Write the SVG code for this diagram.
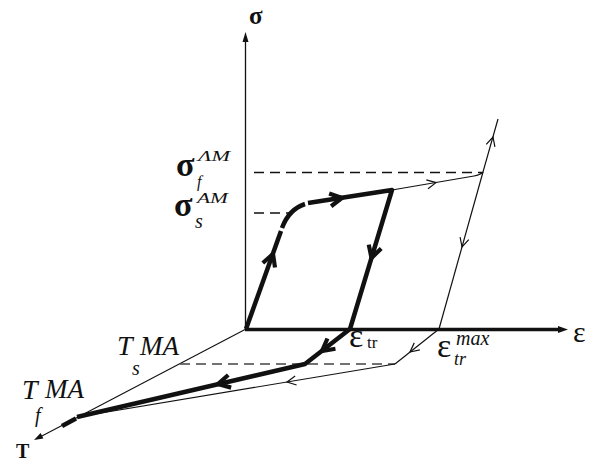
<svg xmlns="http://www.w3.org/2000/svg" xmlns:xlink="http://www.w3.org/1999/xlink" width="596" height="473" viewBox="0 0 596 473">
<style>
.thin{fill:none;stroke:#111;stroke-width:1.2}
.thick{fill:none;stroke:#111;stroke-width:4.5;stroke-linecap:butt;stroke-linejoin:round}
.dash{fill:none;stroke:#111;stroke-width:1.6;stroke-dasharray:10 6}
.dashg{fill:none;stroke:#444;stroke-width:1.5;stroke-dasharray:10 6}
.gr{font-family:"Liberation Serif","DejaVu Serif",serif;fill:#111}
.it{font-family:"Liberation Serif","DejaVu Serif",serif;font-style:italic;fill:#111}
</style>
<defs>
<path id="ta" d="M-12,-6.5 L0,0 L-12,6.5" fill="none" stroke="#111" stroke-width="4.2"/>
<path id="tn" d="M-9,-4.5 L0,0 L-9,4.5" fill="none" stroke="#111" stroke-width="1.2"/>
</defs>
<g id="axes">
<line x1="245.5" y1="329" x2="245.5" y2="40" stroke="#111" stroke-width="1.3"/>
<polygon points="245.5,32 242.5,42 248.5,42" fill="#111"/>
<line x1="245" y1="329.5" x2="560" y2="329.5" stroke="#111" stroke-width="3.5"/>
<polygon points="568,329.5 558,326 558,333" fill="#111"/>
<line x1="246" y1="329" x2="40" y2="437" stroke="#111" stroke-width="1.1"/>
<polygon points="34,440 43.4,438.5 40.6,433.1" fill="#111"/>
<text class="gr" x="249" y="24" font-size="25" font-weight="bold">σ</text>
<text class="gr" x="573" y="342" font-size="30">ε</text>
<text class="gr" x="16" y="458" font-size="20" font-weight="bold">T</text>
</g>
<g id="connectors">
<line class="dash" x1="254" y1="172.5" x2="482" y2="172.5"/>
<line class="dash" x1="254" y1="213" x2="290" y2="213"/>
<line class="dashg" x1="180" y1="364" x2="395" y2="364"/>
<path class="thin" d="M392,190 L474,176 Q480,175 483,172 L498,119"/>
<line class="thin" x1="483" y1="172" x2="439" y2="329"/>
<line class="thin" x1="439" y1="329" x2="395" y2="364"/>
<line class="thin" x1="395" y1="364" x2="77" y2="417"/>
<use xlink:href="#tn" transform="translate(436,182.6) rotate(-11.3)"/>
<use xlink:href="#tn" transform="translate(493,137) rotate(-74.3)"/>
<use xlink:href="#tn" transform="translate(462,247) rotate(105.7)"/>
<use xlink:href="#tn" transform="translate(410,352) rotate(141.5)"/>
<use xlink:href="#tn" transform="translate(287,382) rotate(170.5)"/>
<path class="thick" d="M246,329 L281,231"/>
<path class="thick" d="M282,228 C286,217 293,208 305,204"/>
<path class="thick" d="M308,203 L392,190 L350,329 L305,364 L77,417"/>
<path class="thick" d="M76,418.5 L62,426" stroke-width="4"/>
<use xlink:href="#ta" transform="translate(273,254) rotate(-70)"/>
<use xlink:href="#ta" transform="translate(342,198) rotate(-8.8)"/>
<use xlink:href="#ta" transform="translate(371.5,258) rotate(106.8)"/>
<use xlink:href="#ta" transform="translate(322,351) rotate(142)"/>
<use xlink:href="#ta" transform="translate(218,384) rotate(167)"/>
</g>
<g id="sigma-f">
<text class="gr" x="176" y="176" font-size="34" font-weight="bold">σ</text>
<text class="it" x="198" y="161" font-size="15" textLength="32" lengthAdjust="spacingAndGlyphs">ΛM</text>
<text class="it" x="197" y="187" font-size="16">f</text>
</g>
<g id="sigma-s">
<text class="gr" x="174" y="216" font-size="34" font-weight="bold">σ</text>
<text class="it" x="197" y="203" font-size="15" textLength="31" lengthAdjust="spacingAndGlyphs">AM</text>
<text class="it" x="195" y="228" font-size="20">s</text>
</g>
<g id="T-s">
<text class="it" x="117" y="355" font-size="28">T</text>
<text class="it" x="140" y="355" font-size="27">MA</text>
<text class="it" x="132" y="375" font-size="20">s</text>
</g>
<g id="T-f">
<text class="it" x="22" y="399" font-size="28">T</text>
<text class="it" x="45" y="398" font-size="27">MA</text>
<text class="it" x="35" y="422" font-size="20">f</text>
</g>
<g id="eps-tr">
<text class="gr" x="349" y="347" font-size="34">ε</text>
<text class="gr" x="367" y="348" font-size="17">tr</text>
</g>
<g id="eps-max">
<text class="gr" x="437" y="357" font-size="34">ε</text>
<text class="it" x="456" y="345" font-size="20">max</text>
<text class="it" x="454" y="365" font-size="18">tr</text>
</g>
</svg>
